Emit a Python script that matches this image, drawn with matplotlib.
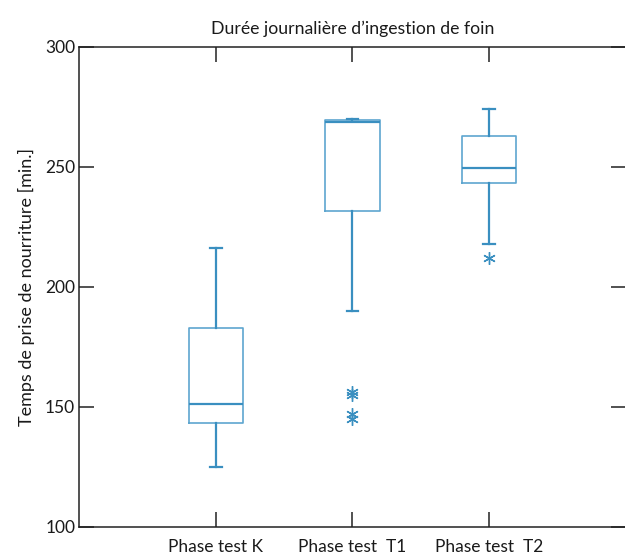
import matplotlib.pyplot as plt

# Données
phases = ["Phase test K", "Phase test  T1", "Phase test  T2"]
whis_bas = [125, 190, 218]
q1 = [143, 231.5, 243.3]
mediane = [151, 268.6, 249.5]
q3 = [183, 269.4, 263]
whis_haut = [216, 270, 274]
valeurs_aberrantes = [[], [155, 156, 145, 147], [212]]

plt.rcParams['font.family'] = ['Lato', 'DejaVu Sans']

stats = []
for i in range(len(phases)):
    stats.append({
        "label": phases[i],
        "whislo": whis_bas[i],
        "q1": q1[i],
        "med": mediane[i],
        "q3": q3[i],
        "whishi": whis_haut[i],
        "fliers": valeurs_aberrantes[i],
    })

bleu_fonce = "#3a8fc0"
bleu_clair = "#5ea6cf"

fig = plt.figure(figsize=(6.25, 5.56), dpi=100)
ax = fig.add_axes([0.127, 0.0527, 0.874, 0.8633])

ax.bxp(stats, positions=[1, 2, 3], widths=0.4,
       boxprops=dict(color=bleu_clair, linewidth=1.2),
       medianprops=dict(color=bleu_fonce, linewidth=1.6),
       whiskerprops=dict(color=bleu_fonce, linewidth=1.6),
       capprops=dict(color=bleu_fonce, linewidth=1.6),
       capwidths=0.085,
       flierprops=dict(marker=(6, 2, 0), markersize=9, markeredgecolor=bleu_fonce,
                       markerfacecolor=bleu_fonce, markeredgewidth=1.0, linestyle="none"))

ax.set_xlim(0, 4)
ax.set_ylim(100, 300)
ax.set_yticks([100, 150, 200, 250, 300])
ax.set_xticks([1, 2, 3])
ax.set_xticklabels(phases)

for s in ax.spines.values():
    s.set_color("#222222")
    s.set_linewidth(1.1)

ax.tick_params(direction="in", length=11, width=1.1, color="#222222",
               top=True, right=True, labelsize=12.5, labelcolor="#1a1a1a", pad=3)
ax.tick_params(axis="x", pad=9)

ax.set_title("Durée journalière d’ingestion de foin", fontsize=12.7, pad=9, color="#1a1a1a")
ax.set_ylabel("Temps de prise de nourriture [min.]", fontsize=13, labelpad=7, color="#1a1a1a")

fig.savefig("out.png", dpi=100)
